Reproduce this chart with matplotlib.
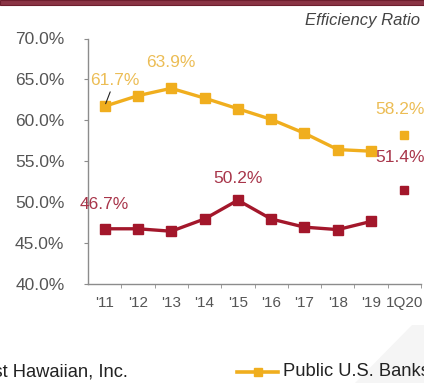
import matplotlib.pyplot as plt
from matplotlib.lines import Line2D
from matplotlib.patches import Rectangle, Polygon

plt.rcParams['font.family'] = ['Liberation Sans', 'DejaVu Sans']

# Efficiency ratio by year
years = ["'11", "'12", "'13", "'14", "'15", "'16", "'17", "'18", "'19", "1Q20"]
fhi_annual = [46.7, 46.7, 46.4, 47.9, 50.2, 47.9, 46.9, 46.6, 47.6]
peer_annual = [61.7, 63.0, 63.9, 62.7, 61.4, 60.1, 58.4, 56.4, 56.2]
fhi_q = 51.4
peer_q = 58.2

RED = '#a3172b'
GOLD = '#f0ae1e'
RED_TXT = '#a8354a'
GOLD_TXT = '#ecbd55'
GREY = '#555555'

W, H = 424, 383
fig = plt.figure(figsize=(W / 100, H / 100), dpi=100)
fig.patch.set_facecolor('white')

# faint watermark shape in the lower right
fig.patches.append(Polygon([(355 / W, 0), (412 / W, 58 / H), (1, 58 / H), (1, 0)],
                           closed=True, transform=fig.transFigure,
                           facecolor='#f5f5f5', edgecolor='none', zorder=0))
# header rule
fig.patches.append(Rectangle((0, 1 - 5 / H), 1, 5 / H, transform=fig.transFigure,
                             facecolor='#8a3445', edgecolor='#6e1e2e', lw=0.8, zorder=1))

ax = fig.add_axes([88 / W, 1 - 283.5 / H, 333 / W, 245 / H])
ax.set_facecolor('none')

x = list(range(len(years)))
ax.plot(x[:9], peer_annual, color=GOLD, lw=2.4, marker='s', ms=6.5,
        markeredgecolor=GOLD, zorder=3)
ax.plot(x[:9], fhi_annual, color=RED, lw=2.4, marker='s', ms=6.5,
        markeredgecolor=RED, zorder=3)
ax.plot([x[9]], [peer_q], ls='none', marker='s', ms=6, color=GOLD, zorder=3)
ax.plot([x[9]], [fhi_q], ls='none', marker='s', ms=6, color=RED, zorder=3)

ax.set_xlim(-0.5, len(years) - 0.5)
ax.set_ylim(40, 70)
ax.set_yticks([40, 45, 50, 55, 60, 65, 70])
ax.set_yticklabels([f'{v:.1f}%' for v in [40, 45, 50, 55, 60, 65, 70]])
ax.set_xticks(x)
ax.set_xticklabels(years)
ax.set_xticks([i + 0.5 for i in x], minor=True)

for s in ['top', 'right']:
    ax.spines[s].set_visible(False)
for s in ['left', 'bottom']:
    ax.spines[s].set_color('#8c8c8c')
    ax.spines[s].set_linewidth(1.0)

ax.tick_params(axis='y', length=3, color='#8c8c8c', pad=14, labelsize=12.5, labelcolor=GREY)
ax.tick_params(axis='x', which='major', length=0, pad=9, labelsize=11, labelcolor=GREY)
ax.tick_params(axis='x', which='minor', length=3, color='#8c8c8c')

# value labels
lab = dict(textcoords='offset pixels', ha='center', va='center', fontsize=12.5,
           annotation_clip=False)
ax.annotate(f'{peer_annual[0]}%', (x[0], peer_annual[0]), xytext=(10, 26),
            color=GOLD_TXT, arrowprops=dict(arrowstyle='-', color='#222222', lw=0.8,
                                            shrinkA=1, shrinkB=2), **lab)
ax.annotate(f'{peer_annual[2]}%', (x[2], peer_annual[2]), xytext=(0, 26), color=GOLD_TXT, **lab)
ax.annotate(f'{peer_q}%', (x[9], peer_q), xytext=(-4, 25), color=GOLD_TXT, **lab)
ax.annotate(f'{fhi_annual[0]}%', (x[0], fhi_annual[0]), xytext=(0, 24), color=RED_TXT, **lab)
ax.annotate(f'{fhi_annual[4]}%', (x[4], fhi_annual[4]), xytext=(0, 22), color=RED_TXT, **lab)
ax.annotate(f'{fhi_q}%', (x[9], fhi_q), xytext=(-4, 33), color=RED_TXT, **lab)

fig.text(420 / W, 1 - 20 / H, 'Efficiency Ratio', ha='right', va='center',
         fontsize=12, style='italic', color='#444444')

# legend row
ly = 1 - 372 / H
fig.text(128 / W, ly, 'First Hawaiian, Inc.', ha='right', va='center',
         fontsize=13.2, color='#222222')
fig.lines.append(Line2D([237 / W, 278 / W], [ly, ly], transform=fig.transFigure,
                        color=GOLD, lw=2.6))
fig.lines.append(Line2D([257.5 / W], [ly], transform=fig.transFigure, color=GOLD,
                        marker='s', ms=6, ls='none'))
fig.text(283 / W, ly, 'Public U.S. Banks', ha='left', va='center',
         fontsize=13.2, color='#222222')

fig.savefig('out.png', dpi=100, facecolor='white')
